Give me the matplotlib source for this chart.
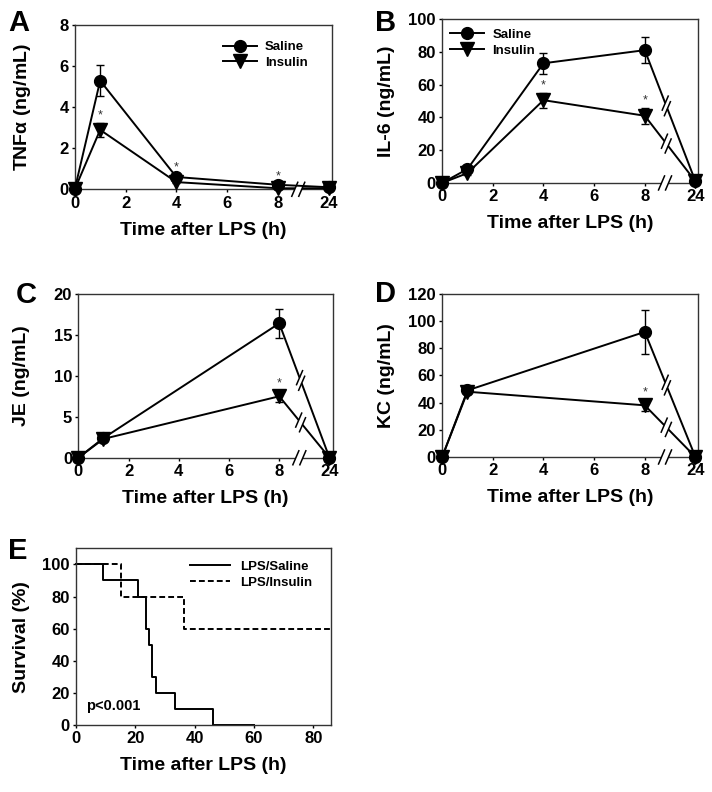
import numpy as np
import matplotlib
matplotlib.use("Agg")
import matplotlib.pyplot as plt
from matplotlib.lines import Line2D
from matplotlib.transforms import IdentityTransform

plt.rcParams['font.family'] = ['Liberation Sans', 'DejaVu Sans']
plt.rcParams['font.weight'] = 'bold'
plt.rcParams['axes.labelweight'] = 'bold'
plt.rcParams['mathtext.default'] = 'regular'

# ---- data ----
time_a = [0, 1, 4, 8, 24]
tnf_saline = [0, 5.3, 0.6, 0.22, 0.1]
tnf_saline_err = [0, 0.75, 0.1, 0.05, 0]
tnf_insulin = [0, 2.9, 0.35, 0.05, 0.05]
tnf_insulin_err = [0, 0.35, 0.05, 0.02, 0]
tnf_star = [1, 4, 8]

time_b = [0, 1, 4, 8, 24]
il6_saline = [0, 8.5, 73, 81, 1]
il6_saline_err = [0, 1, 6.5, 8, 0]
il6_insulin = [0, 6, 50.5, 41, 1]
il6_insulin_err = [0, 1, 4.5, 5, 0]
il6_star = [4, 8]

time_c = [0, 1, 8, 24]
je_saline = [0, 2.4, 16.4, 0]
je_saline_err = [0, 0.2, 1.8, 0]
je_insulin = [0, 2.3, 7.5, 0]
je_insulin_err = [0, 0.2, 0.7, 0]
je_star = [8]

time_d = [0, 1, 8, 24]
kc_saline = [0, 49, 92, 0]
kc_saline_err = [0, 1.5, 16, 0]
kc_insulin = [0, 48, 38, 0]
kc_insulin_err = [0, 1.5, 4, 0]
kc_star = [8]

surv_saline_t = [0, 9, 21, 23.5, 24.5, 25.7, 27, 33.3, 46.3, 60]
surv_saline = [100, 90, 80, 60, 50, 30, 20, 10, 0, 0]
surv_insulin_t = [0, 15, 36.5, 86]
surv_insulin = [100, 80, 60, 60]

x_ticks = [0, 2, 4, 6, 8, 24]

TICK_FS = 12
LABEL_FS = 14


def pos(t):
    # broken axis: 24 h is drawn at position 10
    return np.array([v if v <= 8 else 10 for v in np.atleast_1d(t)], dtype=float)


fig = plt.figure(figsize=(7.12, 7.92), dpi=100)


def frame(ax):
    ax.tick_params(direction='out', length=2.5, width=1, labelsize=TICK_FS, pad=2)
    for lab in ax.get_xticklabels() + ax.get_yticklabels():
        lab.set_fontweight('bold')
    for s in ax.spines.values():
        s.set_linewidth(1.0)
        s.set_color('#333333')
    ax.set_xlabel('Time after LPS (h)', fontsize=LABEL_FS, labelpad=8)


def style(ax, ymax, ystep, xmax=10.12):
    ax.set_xlim(0, xmax)
    ax.set_ylim(0, ymax)
    ax.set_xticks(pos(x_ticks))
    ax.set_xticklabels([str(t) for t in x_ticks])
    ax.set_yticks(np.arange(0, ymax + 0.01, ystep))
    frame(ax)


def line_break(ax, t0, y0, t1, y1, xb=8.85):
    x0, x1 = pos(t0)[0], pos(t1)[0]
    yb = y0 + (y1 - y0) * (xb - x0) / (x1 - x0)
    p0 = np.array(ax.transData.transform((x0, y0)))
    p1 = np.array(ax.transData.transform((x1, y1)))
    pb = np.array(ax.transData.transform((xb, yb)))
    u = (p1 - p0) / np.linalg.norm(p1 - p0)
    a, b = pb - u * 3, pb + u * 3
    ax.plot([a[0], b[0]], [a[1], b[1]], color='white', lw=3, transform=IdentityTransform(),
            clip_on=False, zorder=4, solid_capstyle='butt')
    for c in (a, b):
        ax.plot([c[0] - 3, c[0] + 3], [c[1] - 7, c[1] + 7], color='black', lw=1.1,
                transform=IdentityTransform(), clip_on=False, zorder=5)


def axis_break(ax, xb=8.8):
    pb = np.array(ax.transData.transform((xb, ax.get_ylim()[0])))
    ax.plot([pb[0] - 3.5, pb[0] + 3.5], [pb[1], pb[1]], color='white', lw=3,
            transform=IdentityTransform(), clip_on=False, zorder=4, solid_capstyle='butt')
    for dx in (-3.5, 3.5):
        ax.plot([pb[0] + dx - 3, pb[0] + dx + 3], [pb[1] - 7, pb[1] + 7], color='black', lw=1.1,
                transform=IdentityTransform(), clip_on=False, zorder=5)


def panel(ax, t, sal, sal_err, ins, ins_err, stars, ymax, ystep, ylabel, ylab_x,
          legend_anchor=None, line_breaks=True):
    style(ax, ymax, ystep)
    x = pos(t)
    ax.errorbar(x, sal, yerr=sal_err, color='black', marker='o', ms=8.5, lw=1.4,
                capsize=3, capthick=1, elinewidth=1, clip_on=False, zorder=3)
    ax.errorbar(x, ins, yerr=ins_err, color='black', marker='v', ms=9.5, lw=1.4,
                capsize=3, capthick=1, elinewidth=1, clip_on=False, zorder=3)
    for s in stars:
        i = list(t).index(s)
        base = ins[i] + ins_err[i]
        if sal[i] - base < 0.1 * ymax:
            base = max(base, sal[i] + sal_err[i])
        ax.annotate('*', (pos(s)[0], base), xytext=(0, 1), textcoords='offset points',
                    ha='center', va='bottom', fontsize=9, fontweight='normal', color='#333333')
    ax.set_ylabel(ylabel, fontsize=LABEL_FS)
    ax.yaxis.set_label_coords(ylab_x, 0.5)
    if legend_anchor is not None:
        handles = [Line2D([], [], color='black', lw=1.4, marker='o', ms=8.5, label='Saline'),
                   Line2D([], [], color='black', lw=1.4, marker='v', ms=9.5, label='Insulin')]
        ax.legend(handles=handles, loc='upper left', bbox_to_anchor=legend_anchor,
                  frameon=False, fontsize=9.5, handlelength=2.6, handletextpad=0.6,
                  labelspacing=0.25, borderpad=0, borderaxespad=0)
    if line_breaks:
        line_break(ax, t[-2], sal[-2], t[-1], sal[-1])
        line_break(ax, t[-2], ins[-2], t[-1], ins[-1])
    axis_break(ax)


axA = fig.add_axes([0.105, 0.761, 0.361, 0.207])
panel(axA, time_a, tnf_saline, tnf_saline_err, tnf_insulin, tnf_insulin_err, tnf_star,
      8, 2, r'TNF$\alpha$ (ng/mL)', -0.162, legend_anchor=(0.576, 0.905), line_breaks=False)

axB = fig.add_axes([0.621, 0.769, 0.360, 0.207])
panel(axB, time_b, il6_saline, il6_saline_err, il6_insulin, il6_insulin_err, il6_star,
      100, 20, 'IL-6 (ng/mL)', -0.185, legend_anchor=(0.031, 0.94))

axC = fig.add_axes([0.110, 0.422, 0.357, 0.207])
panel(axC, time_c, je_saline, je_saline_err, je_insulin, je_insulin_err, je_star,
      20, 5, 'JE (ng/mL)', -0.19)

axD = fig.add_axes([0.621, 0.423, 0.360, 0.206])
panel(axD, time_d, kc_saline, kc_saline_err, kc_insulin, kc_insulin_err, kc_star,
      120, 20, 'KC (ng/mL)', -0.185)

# survival panel
axE = fig.add_axes([0.107, 0.0846, 0.358, 0.223])
axE.step(surv_saline_t, surv_saline, where='post', color='black', lw=1.4, ls='-',
         label='LPS/Saline', clip_on=False)
axE.step(surv_insulin_t, surv_insulin, where='post', color='black', lw=1.4, ls=(0, (3, 1.6)),
         label='LPS/Insulin', clip_on=False)
axE.set_xlim(0, 86)
axE.set_ylim(0, 110)
axE.set_xticks([0, 20, 40, 60, 80])
axE.set_yticks([0, 20, 40, 60, 80, 100])
frame(axE)
axE.set_ylabel('Survival (%)', fontsize=LABEL_FS)
axE.yaxis.set_label_coords(-0.18, 0.5)
axE.legend(loc='upper left', bbox_to_anchor=(0.447, 0.93), frameon=False, fontsize=9.5,
           handlelength=3.0, handletextpad=0.8, labelspacing=0.25, borderpad=0, borderaxespad=0)
axE.text(3.5, 12, 'p<0.001', fontsize=10.5, fontweight='bold', va='center')

# panel letters
for lx, ly, letter in [(8, 31, 'A'), (375, 31, 'B'), (16, 303, 'C'), (375, 302, 'D'), (8, 559, 'E')]:
    fig.text(lx / 712, 1 - ly / 792, letter, fontsize=21, fontweight='bold', ha='left',
             va='baseline')

fig.savefig('out.png', dpi=100)
